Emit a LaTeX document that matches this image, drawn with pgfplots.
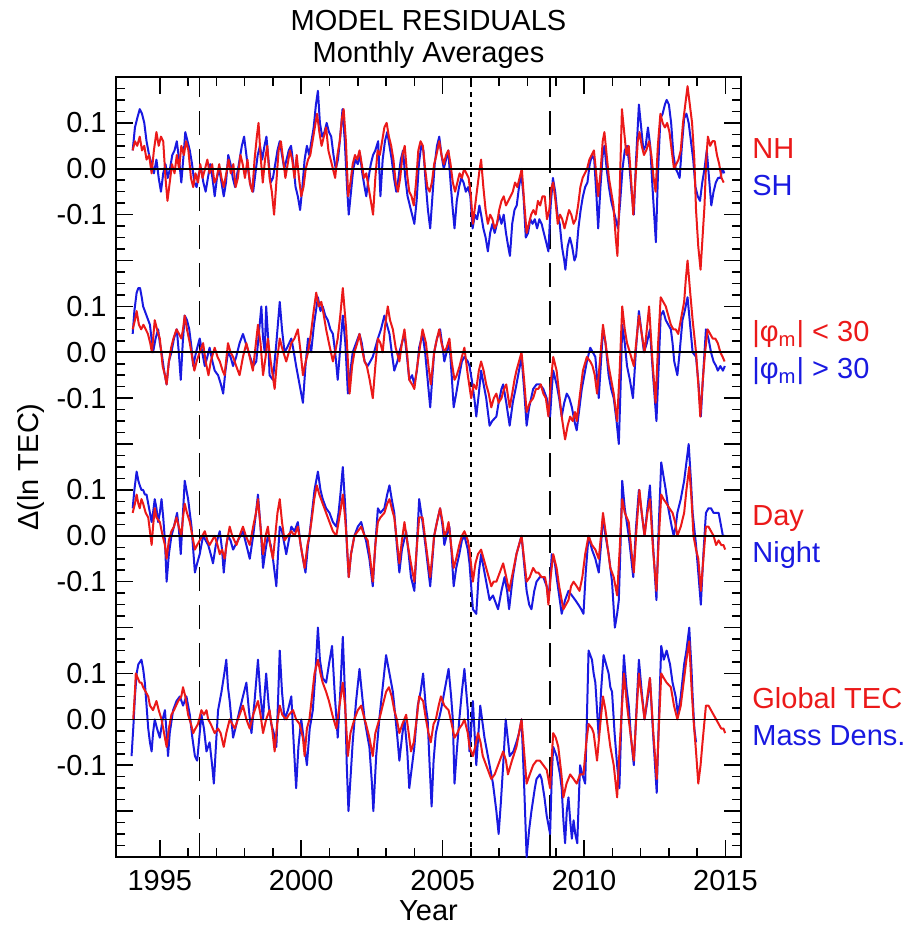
\documentclass[border=0pt]{standalone}
\usepackage{pgfplots}
\pgfplotsset{compat=1.18}
\usepackage{fontspec}
\setmainfont{Liberation Sans}
\definecolor{resred}{RGB}{235,25,25}
\definecolor{resblue}{RGB}{25,25,225}

\begin{document}
\fontsize{14.5}{17}\selectfont
\begin{tikzpicture}
\useasboundingbox (-58pt,-35.5pt) rectangle (396pt,428.5pt);
\begin{axis}[
  name=ax, at={(0,0)}, anchor=south west,
  scale only axis, width=312.5pt, height=390pt,
  xmin=1993.45, xmax=2015.55, ymin=-0.3, ymax=1.4,
  axis line style={line width=1pt},
  tick align=inside,
  major tick length=8.5pt, minor tick length=4.5pt,
  every tick/.style={black, line width=0.75pt},
  xtick={1995,2000,2005,2010,2015},
  xticklabels={1995,2000,2005,2010,2015},
  minor x tick num=4,
  ytick={-0.3,-0.2,-0.1,0,0.1,0.2,0.3,0.4,0.5,0.6,0.7,0.8,0.9,1.0,1.1,1.2,1.3,1.4},
  yticklabels={{},{},-0.1,0.0,0.1,{},-0.1,0.0,0.1,{},-0.1,0.0,0.1,{},-0.1,0.0,0.1,{}},
  minor y tick num=3,
  xticklabel style={anchor=base, inner sep=0pt, yshift=-16.5pt, font=\fontsize{14.5}{17}\selectfont},
  yticklabel style={anchor=east, inner sep=0pt, xshift=-4.5pt, font=\fontsize{14.5}{17}\selectfont},
  every axis plot/.append style={line width=1pt, line join=round},
]
% solar-minimum and reference epochs
\addplot[black, line width=0.8pt, dash pattern=on 12pt off 7pt] coordinates {(1996.4,-0.3) (1996.4,1.4)};
\addplot[black, line width=0.8pt, dash pattern=on 12pt off 7pt] coordinates {(2008.8,-0.3) (2008.8,1.4)};
\addplot[black, line width=0.8pt, dash pattern=on 2.5pt off 2.5pt] coordinates {(2006.0,-0.3) (2006.0,1.4)};

% ---- panel 1: NH / SH (offset +1.2)
\addplot[resblue] table[y expr=\thisrowno{1}+1.2] {
1994.04 0.04
1994.12 0.09
1994.20 0.11
1994.29 0.13
1994.37 0.12
1994.45 0.10
1994.53 0.06
1994.62 0.03
1994.71 0.01
1994.79 -0.01
1994.88 0.02
1994.96 -0.02
1995.04 -0.05
1995.12 -0.01
1995.20 0.01
1995.28 -0.02
1995.36 0.00
1995.44 0.03
1995.52 0.04
1995.60 0.06
1995.68 0.02
1995.76 -0.03
1995.84 0.03
1995.90 0.08
1995.98 0.06
1996.06 0.04
1996.14 0.01
1996.22 -0.03
1996.30 -0.04
1996.38 -0.01
1996.46 0.00
1996.54 -0.03
1996.62 -0.05
1996.70 -0.02
1996.78 0.01
1996.86 -0.02
1996.94 -0.06
1997.02 -0.02
1997.10 0.00
1997.18 -0.03
1997.26 -0.06
1997.34 -0.03
1997.42 0.03
1997.50 0.01
1997.58 -0.02
1997.66 -0.04
1997.74 -0.01
1997.82 0.02
1997.90 0.05
1997.98 0.07
1998.06 0.03
1998.14 -0.01
1998.22 -0.04
1998.30 -0.05
1998.38 -0.01
1998.46 0.03
1998.54 0.05
1998.62 0.02
1998.70 0.05
1998.77 0.07
1998.84 0.02
1998.92 -0.03
1999.00 -0.02
1999.08 0.01
1999.16 0.04
1999.24 0.06
1999.32 0.03
1999.40 0.00
1999.48 0.02
1999.56 0.04
1999.64 0.05
1999.72 0.01
1999.80 -0.04
1999.88 -0.06
1999.96 -0.09
2000.04 -0.04
2000.12 0.02
2000.20 0.05
2000.28 0.03
2000.36 0.06
2000.44 0.09
2000.52 0.14
2000.59 0.17
2000.66 0.10
2000.74 0.07
2000.82 0.08
2000.90 0.10
2000.98 0.08
2001.06 0.07
2001.14 0.03
2001.22 0.00
2001.30 0.02
2001.38 0.07
2001.46 0.13
2001.54 0.06
2001.62 -0.04
2001.68 -0.10
2001.76 -0.05
2001.84 0.00
2001.92 0.02
2002.00 0.01
2002.08 0.03
2002.16 -0.01
2002.24 -0.04
2002.30 -0.06
2002.38 -0.02
2002.46 0.01
2002.54 0.03
2002.62 0.04
2002.72 0.06
2002.80 -0.06
2002.88 0.02
2002.96 0.06
2003.04 0.08
2003.12 0.05
2003.20 0.02
2003.28 -0.02
2003.36 -0.05
2003.44 -0.02
2003.52 0.02
2003.60 0.04
2003.68 -0.02
2003.76 -0.06
2003.84 -0.08
2003.92 -0.10
2004.00 -0.12
2004.08 -0.07
2004.16 0.01
2004.24 0.05
2004.32 0.04
2004.40 -0.03
2004.48 -0.09
2004.56 -0.13
2004.64 -0.06
2004.72 0.01
2004.80 0.05
2004.88 0.07
2004.96 0.03
2005.04 0.00
2005.12 0.02
2005.20 0.04
2005.28 -0.03
2005.36 -0.09
2005.42 -0.13
2005.50 -0.07
2005.58 -0.04
2005.66 -0.02
2005.74 -0.03
2005.82 -0.05
2005.90 -0.04
2005.98 -0.06
2006.06 -0.13
2006.14 -0.10
2006.22 -0.11
2006.30 -0.08
2006.36 -0.10
2006.44 -0.13
2006.52 -0.15
2006.60 -0.18
2006.68 -0.14
2006.76 -0.12
2006.84 -0.14
2006.92 -0.12
2007.00 -0.10
2007.08 -0.12
2007.16 -0.10
2007.24 -0.14
2007.32 -0.17
2007.38 -0.19
2007.46 -0.12
2007.54 -0.09
2007.62 -0.08
2007.70 -0.04
2007.78 -0.01
2007.86 -0.06
2007.94 -0.15
2008.02 -0.14
2008.10 -0.11
2008.18 -0.12
2008.26 -0.11
2008.34 -0.13
2008.42 -0.11
2008.50 -0.12
2008.58 -0.14
2008.66 -0.16
2008.74 -0.18
2008.82 -0.08
2008.90 -0.02
2008.98 -0.05
2009.06 -0.10
2009.14 -0.12
2009.22 -0.17
2009.30 -0.20
2009.34 -0.22
2009.42 -0.17
2009.50 -0.15
2009.58 -0.17
2009.66 -0.20
2009.72 -0.19
2009.80 -0.13
2009.88 -0.09
2009.96 -0.06
2010.04 -0.04
2010.12 -0.03
2010.20 0.01
2010.28 0.03
2010.36 0.02
2010.44 -0.06
2010.50 -0.13
2010.58 -0.04
2010.66 0.03
2010.72 0.05
2010.80 0.00
2010.88 -0.04
2010.96 -0.07
2011.04 -0.09
2011.12 -0.11
2011.20 -0.13
2011.28 -0.07
2011.36 0.00
2011.44 0.04
2011.52 0.05
2011.60 0.01
2011.68 -0.05
2011.76 -0.10
2011.84 0.02
2011.94 0.14
2012.02 0.09
2012.10 0.04
2012.18 0.05
2012.26 0.09
2012.34 0.05
2012.42 -0.04
2012.50 -0.12
2012.54 -0.16
2012.62 0.00
2012.70 0.11
2012.78 0.12
2012.86 0.14
2012.92 0.15
2013.00 0.14
2013.08 0.10
2013.16 0.03
2013.24 0.00
2013.32 -0.01
2013.38 -0.02
2013.46 0.05
2013.54 0.11
2013.62 0.12
2013.70 0.10
2013.78 0.06
2013.86 0.02
2013.94 -0.04
2014.02 -0.06
2014.10 -0.07
2014.18 -0.03
2014.26 0.00
2014.34 0.04
2014.42 -0.02
2014.50 -0.08
2014.58 -0.05
2014.66 -0.03
2014.74 -0.02
2014.82 -0.02
2014.90 0.00
2014.96 -0.01
};
\addplot[resred] table[y expr=\thisrowno{1}+1.2] {
1994.04 0.04
1994.12 0.06
1994.20 0.05
1994.29 0.07
1994.37 0.04
1994.45 0.05
1994.53 0.02
1994.62 0.03
1994.71 -0.01
1994.79 0.04
1994.88 0.08
1994.96 0.05
1995.04 0.07
1995.12 0.06
1995.20 -0.02
1995.27 -0.07
1995.35 -0.03
1995.43 0.01
1995.52 -0.01
1995.60 0.03
1995.68 0.00
1995.76 0.05
1995.85 0.03
1995.93 0.06
1996.01 0.04
1996.10 -0.02
1996.18 -0.04
1996.26 -0.01
1996.35 -0.03
1996.43 0.01
1996.51 -0.02
1996.60 0.00
1996.68 0.02
1996.76 -0.01
1996.85 0.01
1996.93 -0.03
1997.01 -0.02
1997.10 0.01
1997.18 -0.02
1997.26 -0.04
1997.35 -0.01
1997.43 0.02
1997.51 -0.01
1997.60 0.01
1997.68 -0.04
1997.76 -0.02
1997.85 0.03
1997.93 0.01
1998.01 -0.02
1998.10 0.02
1998.18 -0.03
1998.27 -0.05
1998.35 0.02
1998.43 0.07
1998.49 0.10
1998.56 0.03
1998.64 -0.03
1998.72 0.02
1998.80 0.05
1998.88 -0.02
1998.96 -0.05
1999.04 -0.10
1999.12 -0.03
1999.20 0.04
1999.28 0.06
1999.36 0.02
1999.44 -0.02
1999.52 0.01
1999.60 0.04
1999.68 0.02
1999.76 -0.02
1999.84 0.03
1999.92 -0.02
2000.00 -0.06
2000.08 -0.04
2000.16 0.00
2000.24 0.02
2000.32 0.03
2000.40 0.06
2000.48 0.09
2000.56 0.12
2000.64 0.08
2000.72 0.05
2000.80 0.07
2000.88 0.09
2000.96 0.04
2001.04 0.02
2001.12 0.00
2001.20 -0.02
2001.28 0.03
2001.36 0.06
2001.44 0.11
2001.50 0.13
2001.58 0.06
2001.66 -0.06
2001.74 -0.03
2001.82 0.01
2001.90 0.03
2001.98 0.02
2002.06 0.04
2002.14 0.01
2002.22 -0.02
2002.30 -0.01
2002.38 -0.04
2002.46 -0.07
2002.54 -0.10
2002.62 -0.02
2002.70 0.04
2002.78 0.03
2002.86 0.06
2002.94 0.09
2003.02 0.10
2003.10 0.07
2003.18 0.05
2003.26 0.02
2003.34 -0.03
2003.42 -0.05
2003.50 -0.02
2003.58 0.03
2003.66 0.05
2003.74 -0.01
2003.82 -0.05
2003.90 -0.06
2003.98 -0.08
2004.06 -0.03
2004.14 0.04
2004.22 0.06
2004.30 0.05
2004.38 0.00
2004.46 -0.04
2004.54 -0.05
2004.62 -0.03
2004.70 0.01
2004.78 0.03
2004.88 0.06
2004.96 0.03
2005.04 0.01
2005.12 0.03
2005.20 0.04
2005.28 0.01
2005.36 -0.03
2005.44 -0.05
2005.52 -0.03
2005.60 -0.01
2005.68 -0.02
2005.76 0.00
2005.84 -0.01
2005.92 -0.02
2006.00 -0.06
2006.07 -0.12
2006.15 -0.08
2006.23 -0.04
2006.31 0.00
2006.36 0.02
2006.44 -0.04
2006.52 -0.09
2006.60 -0.12
2006.68 -0.10
2006.76 -0.11
2006.84 -0.13
2006.92 -0.12
2007.00 -0.09
2007.08 -0.07
2007.16 -0.06
2007.24 -0.08
2007.32 -0.07
2007.40 -0.06
2007.48 -0.05
2007.56 -0.03
2007.64 -0.04
2007.72 -0.02
2007.80 0.00
2007.88 -0.07
2007.97 -0.14
2008.05 -0.12
2008.13 -0.10
2008.21 -0.09
2008.29 -0.10
2008.37 -0.07
2008.45 -0.08
2008.53 -0.06
2008.61 -0.06
2008.69 -0.11
2008.77 -0.09
2008.85 -0.04
2008.91 -0.03
2008.99 -0.07
2009.07 -0.12
2009.15 -0.10
2009.23 -0.11
2009.31 -0.13
2009.39 -0.11
2009.47 -0.09
2009.55 -0.10
2009.63 -0.12
2009.71 -0.11
2009.79 -0.08
2009.87 -0.04
2009.95 -0.02
2010.03 -0.01
2010.11 0.00
2010.19 0.02
2010.27 0.03
2010.35 0.04
2010.43 -0.01
2010.50 -0.06
2010.58 -0.01
2010.66 0.06
2010.72 0.08
2010.80 0.03
2010.88 -0.02
2010.96 -0.05
2011.04 -0.08
2011.12 -0.15
2011.18 -0.19
2011.26 -0.05
2011.34 0.13
2011.42 0.08
2011.50 0.03
2011.58 0.05
2011.66 -0.02
2011.74 -0.10
2011.82 -0.02
2011.90 0.06
2011.96 0.08
2012.04 0.05
2012.12 0.03
2012.20 0.04
2012.30 0.06
2012.38 0.03
2012.46 -0.02
2012.53 -0.05
2012.61 0.05
2012.70 0.12
2012.78 0.10
2012.86 0.09
2012.94 0.10
2013.02 0.08
2013.10 0.04
2013.18 0.00
2013.26 0.01
2013.34 0.02
2013.42 0.04
2013.50 0.10
2013.56 0.13
2013.66 0.18
2013.74 0.14
2013.82 0.10
2013.90 0.02
2013.96 -0.09
2014.04 -0.17
2014.12 -0.22
2014.20 -0.14
2014.26 -0.08
2014.32 0.02
2014.38 0.07
2014.46 0.05
2014.54 0.06
2014.62 0.06
2014.70 0.03
2014.78 0.01
2014.86 -0.02
2014.94 -0.03
};

% ---- panel 2: |phi_m| < 30 / > 30 (offset +0.8)
\addplot[resblue] table[y expr=\thisrowno{1}+0.8] {
1994.04 0.04
1994.10 0.09
1994.18 0.13
1994.24 0.14
1994.30 0.14
1994.36 0.12
1994.41 0.10
1994.47 0.09
1994.53 0.08
1994.59 0.07
1994.65 0.06
1994.76 0.00
1994.85 0.03
1994.94 0.05
1995.00 0.02
1995.06 0.00
1995.15 -0.04
1995.24 -0.07
1995.32 -0.02
1995.41 0.00
1995.50 0.03
1995.60 0.05
1995.67 0.00
1995.74 -0.06
1995.81 0.02
1995.88 0.08
1995.96 0.07
1996.04 0.05
1996.12 0.01
1996.18 -0.03
1996.28 0.00
1996.41 0.03
1996.50 0.00
1996.59 -0.03
1996.68 -0.01
1996.76 0.01
1996.86 -0.02
1996.94 -0.04
1997.06 -0.05
1997.16 -0.07
1997.24 -0.09
1997.32 -0.04
1997.41 0.00
1997.50 -0.01
1997.59 -0.03
1997.70 -0.01
1997.82 0.02
1997.94 0.04
1998.04 0.02
1998.14 0.00
1998.30 -0.03
1998.41 -0.02
1998.50 0.04
1998.59 0.10
1998.65 0.03
1998.71 0.00
1998.76 0.10
1998.84 0.02
1998.88 -0.05
1999.00 -0.06
1999.12 0.02
1999.24 0.11
1999.32 0.05
1999.41 0.00
1999.50 0.01
1999.65 0.03
1999.74 0.00
1999.82 -0.03
1999.94 -0.07
2000.06 -0.11
2000.15 -0.03
2000.24 0.03
2000.35 0.00
2000.45 0.06
2000.59 0.12
2000.68 0.09
2000.76 0.10
2000.85 0.08
2000.94 0.07
2001.03 0.05
2001.12 0.04
2001.20 0.00
2001.29 -0.06
2001.38 0.01
2001.47 0.08
2001.56 0.02
2001.65 -0.09
2001.74 -0.04
2001.82 0.00
2001.94 0.02
2002.06 0.04
2002.14 0.02
2002.24 -0.02
2002.35 -0.03
2002.53 -0.01
2002.62 0.01
2002.71 0.03
2002.82 0.05
2002.94 0.08
2003.03 0.06
2003.12 0.04
2003.20 0.00
2003.29 -0.04
2003.40 -0.02
2003.47 0.00
2003.56 0.02
2003.65 0.04
2003.74 -0.01
2003.82 -0.06
2003.92 -0.05
2004.00 -0.07
2004.09 -0.04
2004.17 0.01
2004.29 0.04
2004.38 0.00
2004.47 -0.06
2004.56 -0.12
2004.64 -0.05
2004.70 0.00
2004.80 0.03
2004.91 0.05
2005.00 0.01
2005.06 -0.02
2005.14 0.00
2005.24 0.02
2005.32 -0.05
2005.39 -0.12
2005.48 -0.09
2005.59 -0.05
2005.68 -0.02
2005.77 -0.01
2005.89 -0.02
2005.95 -0.03
2006.03 -0.06
2006.12 -0.10
2006.19 -0.14
2006.28 -0.09
2006.36 -0.04
2006.45 -0.07
2006.54 -0.10
2006.66 -0.16
2006.75 -0.15
2006.90 -0.14
2006.98 -0.11
2007.08 -0.08
2007.14 -0.07
2007.25 -0.11
2007.37 -0.16
2007.48 -0.11
2007.61 -0.07
2007.70 -0.04
2007.79 -0.01
2007.88 -0.08
2007.97 -0.16
2008.06 -0.12
2008.20 -0.08
2008.32 -0.07
2008.44 -0.07
2008.56 -0.08
2008.68 -0.10
2008.80 -0.14
2008.86 -0.08
2008.91 -0.04
2009.03 -0.07
2009.12 -0.10
2009.21 -0.14
2009.30 -0.11
2009.39 -0.09
2009.48 -0.10
2009.57 -0.12
2009.66 -0.15
2009.74 -0.17
2009.84 -0.12
2009.92 -0.08
2010.04 -0.04
2010.10 -0.02
2010.22 0.01
2010.31 0.00
2010.40 -0.01
2010.52 -0.10
2010.60 -0.02
2010.67 0.05
2010.76 0.02
2010.87 -0.05
2010.96 -0.08
2011.05 -0.10
2011.15 -0.15
2011.23 -0.20
2011.29 -0.08
2011.35 0.06
2011.44 0.02
2011.52 -0.03
2011.62 -0.06
2011.73 -0.10
2011.84 0.01
2011.94 0.09
2012.04 0.04
2012.12 0.00
2012.22 0.02
2012.33 0.05
2012.44 -0.05
2012.56 -0.15
2012.64 -0.03
2012.71 0.08
2012.80 0.09
2012.89 0.07
2012.98 0.06
2013.07 0.05
2013.13 0.02
2013.19 -0.02
2013.30 -0.05
2013.38 0.00
2013.48 0.07
2013.56 0.09
2013.66 0.12
2013.75 0.06
2013.84 0.00
2013.96 -0.01
2014.05 -0.07
2014.13 -0.14
2014.22 -0.04
2014.31 0.05
2014.40 0.03
2014.49 0.00
2014.58 -0.02
2014.67 -0.03
2014.73 -0.04
2014.82 -0.03
2014.91 -0.04
2014.98 -0.03
};
\addplot[resred] table[y expr=\thisrowno{1}+0.8] {
1994.04 0.05
1994.12 0.07
1994.18 0.09
1994.26 0.06
1994.34 0.05
1994.42 0.06
1994.50 0.05
1994.58 0.04
1994.66 0.02
1994.72 0.00
1994.82 0.07
1994.90 0.05
1995.00 0.03
1995.10 -0.03
1995.18 -0.05
1995.24 -0.07
1995.32 -0.02
1995.40 0.01
1995.48 0.03
1995.59 0.05
1995.68 0.04
1995.76 0.03
1995.82 0.05
1995.88 0.08
1995.96 0.05
1996.06 0.02
1996.14 -0.01
1996.22 -0.04
1996.30 -0.02
1996.41 0.00
1996.53 0.02
1996.62 -0.02
1996.72 -0.05
1996.80 -0.02
1996.94 0.01
1997.04 -0.01
1997.12 -0.02
1997.22 -0.04
1997.29 -0.05
1997.41 0.02
1997.50 0.00
1997.59 -0.01
1997.70 -0.03
1997.82 -0.05
1997.94 -0.01
1998.06 0.02
1998.14 0.00
1998.29 -0.04
1998.38 0.01
1998.47 0.06
1998.56 0.02
1998.65 -0.05
1998.74 -0.01
1998.82 0.03
1998.92 -0.02
1999.06 -0.08
1999.14 -0.02
1999.24 0.03
1999.32 0.01
1999.47 -0.02
1999.56 0.00
1999.65 0.02
1999.76 0.03
1999.88 0.05
1999.98 0.00
2000.06 -0.05
2000.16 -0.02
2000.24 0.00
2000.34 0.04
2000.44 0.09
2000.53 0.13
2000.62 0.10
2000.71 0.11
2000.80 0.08
2000.88 0.05
2000.98 0.02
2001.12 -0.02
2001.20 0.00
2001.29 0.03
2001.38 0.08
2001.47 0.14
2001.55 0.08
2001.59 0.05
2001.71 -0.09
2001.80 -0.03
2001.88 0.00
2001.98 0.02
2002.06 0.04
2002.14 0.01
2002.24 -0.02
2002.32 -0.03
2002.42 -0.06
2002.53 -0.10
2002.62 -0.03
2002.71 0.03
2002.80 0.02
2002.88 0.00
2002.97 0.06
2003.06 0.10
2003.14 0.07
2003.24 0.05
2003.34 0.01
2003.47 -0.02
2003.56 0.02
2003.65 0.05
2003.74 0.00
2003.82 -0.06
2003.92 -0.07
2004.00 -0.08
2004.08 -0.04
2004.17 0.00
2004.29 0.05
2004.41 0.02
2004.50 -0.03
2004.58 -0.07
2004.70 0.00
2004.80 0.03
2004.88 0.05
2004.96 0.02
2005.06 0.00
2005.14 0.01
2005.24 0.03
2005.32 -0.02
2005.42 -0.06
2005.50 -0.05
2005.60 -0.03
2005.68 -0.01
2005.77 0.01
2005.89 -0.05
2006.01 -0.10
2006.10 -0.07
2006.19 -0.08
2006.28 -0.04
2006.36 -0.02
2006.45 -0.04
2006.54 -0.07
2006.63 -0.09
2006.72 -0.12
2006.81 -0.10
2006.90 -0.09
2006.98 -0.11
2007.08 -0.10
2007.17 -0.08
2007.25 -0.07
2007.37 -0.12
2007.46 -0.09
2007.54 -0.06
2007.61 -0.04
2007.70 -0.02
2007.79 0.00
2007.88 -0.06
2007.97 -0.13
2008.08 -0.11
2008.20 -0.10
2008.30 -0.08
2008.38 -0.08
2008.47 -0.07
2008.56 -0.09
2008.65 -0.10
2008.74 -0.14
2008.82 -0.07
2008.91 -0.01
2009.03 -0.04
2009.12 -0.09
2009.21 -0.14
2009.33 -0.19
2009.42 -0.16
2009.51 -0.14
2009.60 -0.15
2009.68 -0.13
2009.74 -0.15
2009.86 -0.09
2009.96 -0.04
2010.10 -0.01
2010.22 -0.02
2010.30 -0.03
2010.38 -0.05
2010.46 -0.09
2010.56 -0.02
2010.67 0.06
2010.76 0.02
2010.87 -0.03
2010.96 -0.06
2011.05 -0.09
2011.17 -0.15
2011.26 -0.04
2011.35 0.10
2011.44 0.05
2011.52 0.02
2011.62 0.00
2011.76 -0.03
2011.86 0.03
2011.94 0.08
2012.04 0.04
2012.14 0.00
2012.22 0.05
2012.30 0.10
2012.42 -0.02
2012.53 -0.11
2012.62 0.02
2012.71 0.12
2012.80 0.11
2012.89 0.10
2012.98 0.08
2013.07 0.06
2013.16 0.05
2013.24 0.05
2013.33 0.04
2013.42 0.07
2013.54 0.11
2013.60 0.16
2013.66 0.20
2013.74 0.14
2013.84 0.07
2013.96 0.00
2014.04 -0.07
2014.11 -0.14
2014.20 -0.06
2014.28 0.00
2014.37 0.05
2014.46 0.04
2014.55 0.03
2014.64 0.03
2014.73 0.02
2014.82 0.00
2014.90 -0.01
2014.97 -0.02
};

% ---- panel 3: Day / Night (offset +0.4)
\addplot[resblue] table[y expr=\thisrowno{1}+0.4] {
1994.04 0.06
1994.10 0.10
1994.18 0.14
1994.24 0.12
1994.29 0.11
1994.35 0.10
1994.41 0.10
1994.47 0.09
1994.53 0.09
1994.59 0.07
1994.65 0.05
1994.71 0.03
1994.76 0.05
1994.82 0.08
1994.88 0.06
1994.94 0.03
1995.00 0.05
1995.06 0.08
1995.12 0.04
1995.18 -0.01
1995.24 -0.10
1995.32 -0.04
1995.41 0.00
1995.50 0.02
1995.61 0.05
1995.68 0.01
1995.74 -0.04
1995.81 0.04
1995.88 0.12
1995.94 0.10
1996.00 0.08
1996.06 0.05
1996.12 0.02
1996.18 -0.03
1996.24 -0.08
1996.32 -0.06
1996.41 -0.04
1996.53 0.00
1996.62 -0.01
1996.71 -0.02
1996.80 -0.04
1996.88 -0.06
1996.98 -0.02
1997.12 0.01
1997.20 -0.03
1997.26 -0.08
1997.35 -0.02
1997.41 0.00
1997.50 -0.01
1997.59 -0.03
1997.76 -0.01
1997.94 0.01
1998.06 -0.02
1998.18 -0.05
1998.30 0.00
1998.40 0.05
1998.47 0.09
1998.56 0.02
1998.65 -0.07
1998.74 -0.03
1998.82 0.00
1998.92 -0.02
1999.00 -0.05
1999.12 -0.11
1999.18 -0.04
1999.24 0.02
1999.32 0.01
1999.47 -0.04
1999.56 -0.01
1999.65 0.02
1999.76 0.01
1999.88 0.03
1999.98 -0.02
2000.06 -0.05
2000.15 -0.08
2000.24 -0.02
2000.29 0.00
2000.38 0.05
2000.47 0.10
2000.59 0.14
2000.68 0.10
2000.76 0.08
2000.88 0.06
2001.00 0.05
2001.12 0.03
2001.24 0.02
2001.32 0.05
2001.40 0.10
2001.47 0.15
2001.55 0.07
2001.62 -0.03
2001.68 -0.09
2001.76 -0.04
2001.88 0.00
2002.00 0.02
2002.12 0.03
2002.24 0.00
2002.29 -0.01
2002.41 -0.05
2002.53 -0.11
2002.62 -0.02
2002.71 0.06
2002.80 0.05
2002.94 0.06
2003.04 0.09
2003.12 0.11
2003.20 0.08
2003.29 0.05
2003.38 -0.02
2003.47 -0.08
2003.56 -0.03
2003.71 0.01
2003.80 -0.04
2003.88 -0.09
2004.00 -0.12
2004.08 -0.03
2004.17 0.08
2004.29 0.03
2004.41 -0.03
2004.56 -0.11
2004.64 -0.05
2004.70 0.00
2004.80 0.03
2004.91 0.06
2005.00 0.02
2005.06 -0.02
2005.14 0.00
2005.24 0.02
2005.32 -0.04
2005.39 -0.11
2005.48 -0.07
2005.59 -0.04
2005.68 -0.01
2005.77 0.00
2005.89 -0.03
2005.95 -0.06
2006.07 -0.16
2006.19 -0.17
2006.28 -0.08
2006.36 -0.04
2006.45 -0.07
2006.54 -0.10
2006.66 -0.14
2006.78 -0.13
2006.96 -0.16
2007.08 -0.12
2007.19 -0.09
2007.28 -0.12
2007.35 -0.16
2007.48 -0.09
2007.61 -0.04
2007.70 -0.02
2007.79 0.00
2007.88 -0.06
2007.97 -0.12
2008.06 -0.15
2008.14 -0.16
2008.24 -0.12
2008.32 -0.10
2008.44 -0.09
2008.56 -0.09
2008.68 -0.11
2008.74 -0.14
2008.82 -0.08
2008.86 -0.04
2008.97 -0.06
2009.03 -0.09
2009.12 -0.13
2009.21 -0.17
2009.33 -0.14
2009.45 -0.12
2009.57 -0.13
2009.69 -0.14
2009.80 -0.15
2009.90 -0.16
2009.98 -0.17
2010.06 -0.08
2010.16 0.00
2010.28 -0.03
2010.40 -0.05
2010.52 -0.08
2010.60 -0.02
2010.67 0.04
2010.76 0.00
2010.87 -0.04
2010.99 -0.10
2011.09 -0.20
2011.17 -0.17
2011.23 -0.14
2011.29 -0.02
2011.35 0.12
2011.44 0.06
2011.58 0.00
2011.67 -0.05
2011.74 -0.09
2011.84 0.02
2011.94 0.10
2012.04 0.05
2012.14 0.00
2012.24 0.06
2012.33 0.11
2012.44 -0.02
2012.56 -0.14
2012.64 0.02
2012.73 0.16
2012.81 0.13
2012.89 0.10
2012.98 0.06
2013.10 0.02
2013.17 0.00
2013.24 0.02
2013.30 0.05
2013.42 0.08
2013.54 0.12
2013.62 0.16
2013.70 0.20
2013.78 0.12
2013.84 0.05
2013.96 -0.02
2014.04 -0.08
2014.13 -0.15
2014.22 -0.04
2014.31 0.05
2014.40 0.06
2014.49 0.06
2014.58 0.05
2014.67 0.05
2014.76 0.05
2014.85 0.02
2014.91 0.00
2014.99 0.00
};
\addplot[resred] table[y expr=\thisrowno{1}+0.4] {
1994.04 0.05
1994.12 0.07
1994.18 0.09
1994.24 0.07
1994.29 0.06
1994.35 0.08
1994.41 0.07
1994.50 0.05
1994.59 0.04
1994.65 0.01
1994.71 -0.02
1994.76 0.02
1994.82 0.06
1994.88 0.04
1995.00 0.03
1995.10 0.00
1995.18 -0.02
1995.24 -0.05
1995.32 -0.01
1995.41 0.01
1995.50 0.02
1995.59 0.04
1995.67 0.02
1995.76 0.00
1995.82 0.04
1995.88 0.07
1995.96 0.05
1996.06 0.03
1996.15 0.00
1996.24 -0.03
1996.32 -0.02
1996.41 -0.01
1996.50 0.00
1996.59 0.01
1996.68 -0.01
1996.76 -0.02
1996.85 -0.01
1996.94 0.00
1997.04 -0.02
1997.12 -0.04
1997.20 -0.03
1997.29 -0.05
1997.38 -0.01
1997.47 0.02
1997.56 0.00
1997.71 -0.02
1997.82 0.00
1997.94 0.02
1998.04 0.00
1998.18 -0.02
1998.30 0.02
1998.40 0.05
1998.47 0.08
1998.56 0.02
1998.65 -0.04
1998.74 0.00
1998.82 0.02
1998.90 -0.02
1999.00 -0.05
1999.08 0.00
1999.16 0.05
1999.24 0.08
1999.32 0.03
1999.41 -0.01
1999.52 0.00
1999.65 0.01
1999.76 0.00
1999.88 0.02
1999.98 -0.02
2000.12 -0.07
2000.22 -0.02
2000.29 0.00
2000.38 0.04
2000.46 0.08
2000.55 0.11
2000.64 0.09
2000.76 0.07
2000.88 0.05
2001.00 0.03
2001.12 0.01
2001.24 0.00
2001.32 0.03
2001.40 0.06
2001.47 0.09
2001.55 0.04
2001.62 -0.02
2001.68 -0.09
2001.76 -0.04
2001.88 0.00
2002.00 0.01
2002.12 0.02
2002.24 0.00
2002.35 -0.01
2002.44 -0.05
2002.53 -0.10
2002.62 -0.02
2002.71 0.03
2002.80 0.04
2002.94 0.05
2003.04 0.07
2003.12 0.08
2003.20 0.06
2003.29 0.04
2003.38 -0.01
2003.47 -0.06
2003.56 -0.01
2003.65 0.03
2003.74 -0.01
2003.88 -0.06
2004.00 -0.10
2004.08 -0.03
2004.17 0.04
2004.29 0.04
2004.41 -0.02
2004.56 -0.09
2004.64 -0.04
2004.70 0.00
2004.80 0.03
2004.91 0.06
2005.00 0.03
2005.06 0.00
2005.14 0.01
2005.21 0.03
2005.30 -0.02
2005.39 -0.07
2005.48 -0.05
2005.59 -0.02
2005.68 0.00
2005.77 0.01
2005.89 -0.01
2005.95 -0.03
2006.07 -0.10
2006.16 -0.06
2006.25 -0.04
2006.36 -0.03
2006.45 -0.05
2006.54 -0.07
2006.63 -0.09
2006.72 -0.11
2006.80 -0.10
2006.90 -0.10
2007.02 -0.08
2007.14 -0.06
2007.25 -0.09
2007.35 -0.12
2007.48 -0.08
2007.61 -0.04
2007.70 -0.02
2007.79 0.00
2007.88 -0.05
2007.97 -0.10
2008.08 -0.09
2008.20 -0.07
2008.30 -0.08
2008.38 -0.08
2008.50 -0.09
2008.62 -0.09
2008.68 -0.11
2008.74 -0.15
2008.82 -0.09
2008.91 -0.04
2009.03 -0.07
2009.12 -0.11
2009.27 -0.16
2009.36 -0.15
2009.45 -0.14
2009.54 -0.11
2009.63 -0.10
2009.74 -0.11
2009.84 -0.12
2009.94 -0.09
2010.04 -0.04
2010.16 0.00
2010.28 -0.02
2010.40 -0.03
2010.52 -0.05
2010.60 0.00
2010.67 0.05
2010.76 0.01
2010.93 -0.07
2011.05 -0.09
2011.17 -0.13
2011.26 -0.03
2011.35 0.08
2011.44 0.05
2011.58 0.03
2011.67 -0.03
2011.76 -0.08
2011.86 0.02
2011.96 0.10
2012.04 0.05
2012.14 0.00
2012.24 0.05
2012.33 0.08
2012.44 -0.03
2012.56 -0.12
2012.64 -0.01
2012.73 0.09
2012.81 0.08
2012.92 0.07
2013.02 0.06
2013.13 0.05
2013.22 0.03
2013.30 0.00
2013.42 0.02
2013.54 0.05
2013.62 0.10
2013.72 0.15
2013.80 0.08
2013.87 0.00
2013.96 -0.03
2014.04 -0.05
2014.13 -0.12
2014.22 -0.05
2014.31 0.02
2014.40 0.02
2014.49 0.01
2014.58 0.00
2014.67 -0.02
2014.76 -0.01
2014.85 -0.02
2014.93 -0.02
2014.99 -0.03
};

% ---- panel 4: Global TEC / Mass density (no offset)
\addplot[resblue] table {
1994.00 -0.08
1994.06 -0.02
1994.12 0.05
1994.18 0.10
1994.24 0.12
1994.35 0.13
1994.41 0.11
1994.47 0.08
1994.53 0.03
1994.59 -0.02
1994.65 -0.05
1994.71 -0.07
1994.76 -0.03
1994.82 0.00
1994.90 -0.02
1995.00 -0.04
1995.10 0.00
1995.18 0.02
1995.24 -0.03
1995.29 -0.08
1995.35 -0.03
1995.47 0.02
1995.59 0.04
1995.71 0.05
1995.82 0.03
1995.94 0.05
1996.06 0.01
1996.15 -0.04
1996.24 -0.08
1996.32 -0.09
1996.41 -0.03
1996.47 0.01
1996.56 -0.02
1996.65 -0.07
1996.76 -0.05
1996.85 -0.10
1996.91 -0.14
1997.00 -0.04
1997.06 0.02
1997.18 0.06
1997.28 0.10
1997.35 0.13
1997.41 0.07
1997.47 0.04
1997.59 -0.04
1997.71 -0.01
1997.82 0.02
1997.94 0.05
1998.06 0.08
1998.15 0.02
1998.24 -0.03
1998.35 0.04
1998.47 0.13
1998.56 0.05
1998.65 0.00
1998.70 0.05
1998.76 0.10
1998.85 0.03
1998.94 -0.01
1999.03 -0.03
1999.12 -0.06
1999.18 0.04
1999.24 0.15
1999.32 0.06
1999.41 0.00
1999.53 0.02
1999.65 0.05
1999.74 -0.06
1999.82 -0.15
1999.90 -0.06
2000.00 0.00
2000.12 -0.06
2000.20 -0.10
2000.30 -0.02
2000.41 0.02
2000.50 0.10
2000.59 0.20
2000.66 0.13
2000.76 0.09
2000.88 0.08
2000.98 0.12
2001.09 0.16
2001.18 0.06
2001.29 -0.04
2001.38 0.06
2001.47 0.18
2001.55 0.05
2001.61 -0.10
2001.67 -0.20
2001.75 -0.12
2001.82 -0.05
2001.94 0.04
2002.06 0.11
2002.14 0.06
2002.24 0.00
2002.35 -0.04
2002.41 -0.06
2002.50 -0.14
2002.55 -0.20
2002.65 -0.08
2002.76 0.00
2002.88 0.07
2003.00 0.14
2003.12 0.10
2003.24 0.06
2003.29 0.03
2003.40 -0.04
2003.47 -0.09
2003.58 -0.03
2003.65 0.00
2003.75 -0.07
2003.82 -0.15
2003.92 -0.10
2004.00 -0.06
2004.12 0.03
2004.22 0.06
2004.31 0.10
2004.40 0.03
2004.47 0.00
2004.54 -0.10
2004.61 -0.19
2004.68 -0.09
2004.76 -0.03
2004.94 0.02
2005.06 0.06
2005.21 0.11
2005.30 0.05
2005.36 0.00
2005.42 -0.14
2005.50 -0.07
2005.59 0.00
2005.68 0.06
2005.77 0.11
2005.89 0.02
2005.95 -0.07
2006.01 -0.02
2006.07 0.04
2006.19 -0.10
2006.33 0.03
2006.48 -0.04
2006.66 -0.10
2006.78 -0.14
2006.90 -0.20
2006.98 -0.25
2007.06 -0.18
2007.14 -0.10
2007.23 0.00
2007.30 -0.04
2007.37 -0.08
2007.50 -0.07
2007.61 -0.05
2007.70 -0.03
2007.79 0.00
2007.88 -0.14
2007.97 -0.30
2008.06 -0.24
2008.14 -0.20
2008.26 -0.15
2008.32 -0.13
2008.44 -0.12
2008.50 -0.13
2008.60 -0.17
2008.68 -0.21
2008.80 -0.25
2008.86 -0.12
2008.91 -0.06
2009.03 -0.08
2009.15 -0.12
2009.21 -0.15
2009.27 -0.22
2009.33 -0.27
2009.39 -0.20
2009.45 -0.17
2009.51 -0.22
2009.57 -0.26
2009.63 -0.22
2009.69 -0.25
2009.76 -0.27
2009.80 -0.20
2009.86 -0.10
2009.94 -0.12
2010.04 -0.14
2010.10 0.00
2010.16 0.15
2010.22 0.14
2010.28 0.13
2010.34 0.10
2010.40 0.08
2010.46 0.02
2010.52 -0.04
2010.60 0.06
2010.69 0.14
2010.78 0.12
2010.87 0.10
2010.93 0.07
2010.99 0.06
2011.08 -0.03
2011.17 -0.10
2011.25 -0.15
2011.33 0.02
2011.41 0.14
2011.50 0.07
2011.58 0.03
2011.66 -0.04
2011.76 -0.10
2011.86 0.03
2011.94 0.13
2012.04 0.06
2012.14 0.00
2012.24 0.04
2012.33 0.09
2012.45 -0.04
2012.57 -0.16
2012.65 0.01
2012.73 0.16
2012.82 0.13
2012.92 0.15
2013.04 0.12
2013.13 0.08
2013.24 0.05
2013.32 0.01
2013.42 0.05
2013.54 0.12
2013.62 0.15
2013.72 0.20
2013.80 0.11
2013.84 0.05
2013.90 -0.02
2013.96 -0.05
};
\addplot[resred] table {
1994.06 0.00
1994.12 0.06
1994.15 0.10
1994.22 0.09
1994.29 0.08
1994.35 0.08
1994.41 0.07
1994.50 0.06
1994.59 0.05
1994.65 0.03
1994.76 0.02
1994.88 0.04
1994.96 0.02
1995.06 0.00
1995.15 -0.03
1995.24 -0.06
1995.32 -0.02
1995.41 0.01
1995.50 0.02
1995.65 0.04
1995.76 0.05
1995.82 0.07
1995.90 0.05
1996.00 0.01
1996.10 -0.01
1996.18 -0.03
1996.26 -0.02
1996.35 -0.01
1996.47 0.02
1996.56 0.01
1996.65 0.02
1996.71 0.00
1996.80 -0.01
1996.94 -0.03
1997.06 -0.02
1997.15 -0.03
1997.26 -0.06
1997.35 -0.03
1997.47 0.00
1997.56 -0.01
1997.65 -0.02
1997.76 0.00
1997.94 0.03
1998.06 0.00
1998.18 -0.02
1998.30 0.01
1998.47 0.04
1998.56 0.01
1998.65 -0.03
1998.76 0.00
1998.88 0.02
1998.97 -0.02
1999.06 -0.07
1999.15 -0.01
1999.24 0.03
1999.33 0.01
1999.47 0.00
1999.56 0.01
1999.71 0.02
1999.82 0.00
1999.94 -0.01
2000.06 -0.04
2000.12 -0.08
2000.20 -0.02
2000.29 0.00
2000.38 0.05
2000.47 0.10
2000.59 0.13
2000.68 0.10
2000.76 0.08
2000.88 0.06
2000.98 0.04
2001.10 0.01
2001.24 -0.02
2001.33 0.02
2001.40 0.05
2001.47 0.08
2001.55 0.03
2001.65 -0.08
2001.74 -0.03
2001.88 0.00
2002.00 0.02
2002.12 0.03
2002.24 0.00
2002.29 -0.01
2002.41 -0.04
2002.53 -0.08
2002.62 -0.03
2002.76 0.00
2002.88 0.03
2003.00 0.06
2003.10 0.07
2003.20 0.05
2003.29 0.02
2003.38 0.00
2003.47 -0.03
2003.58 -0.01
2003.71 0.01
2003.80 -0.03
2003.88 -0.07
2003.98 -0.05
2004.08 0.00
2004.17 0.05
2004.31 0.04
2004.41 0.00
2004.50 -0.03
2004.58 -0.05
2004.68 -0.01
2004.76 0.00
2004.86 0.03
2004.94 0.05
2005.06 0.03
2005.21 0.02
2005.32 -0.01
2005.42 -0.04
2005.52 -0.03
2005.59 -0.02
2005.70 -0.01
2005.77 0.00
2005.89 -0.03
2005.95 -0.06
2006.07 -0.08
2006.15 -0.06
2006.25 -0.03
2006.34 -0.05
2006.42 -0.08
2006.54 -0.10
2006.66 -0.12
2006.72 -0.13
2006.84 -0.12
2006.96 -0.10
2007.14 -0.07
2007.24 -0.09
2007.31 -0.12
2007.45 -0.09
2007.61 -0.06
2007.70 -0.03
2007.79 0.00
2007.88 -0.07
2007.97 -0.14
2008.08 -0.12
2008.20 -0.10
2008.32 -0.09
2008.44 -0.09
2008.56 -0.10
2008.68 -0.11
2008.80 -0.15
2008.86 -0.08
2008.91 -0.03
2009.00 -0.04
2009.09 -0.06
2009.20 -0.12
2009.27 -0.17
2009.38 -0.14
2009.51 -0.12
2009.63 -0.13
2009.74 -0.14
2009.86 -0.12
2009.98 -0.12
2010.08 -0.05
2010.16 -0.01
2010.28 -0.02
2010.34 -0.03
2010.46 -0.09
2010.56 -0.02
2010.67 0.05
2010.76 0.02
2010.93 -0.06
2011.05 -0.10
2011.17 -0.17
2011.26 -0.06
2011.41 0.10
2011.52 0.03
2011.58 0.00
2011.68 -0.05
2011.76 -0.09
2011.86 0.02
2011.94 0.10
2012.04 0.05
2012.14 0.00
2012.24 0.05
2012.33 0.09
2012.45 -0.03
2012.57 -0.13
2012.65 -0.01
2012.73 0.10
2012.82 0.09
2012.92 0.08
2013.07 0.07
2013.18 0.03
2013.30 0.00
2013.42 0.03
2013.54 0.09
2013.62 0.13
2013.72 0.17
2013.80 0.07
2013.87 0.00
2013.96 -0.07
2014.04 -0.14
2014.12 -0.10
2014.19 -0.05
2014.31 0.03
2014.40 0.03
2014.49 0.02
2014.58 0.01
2014.67 0.00
2014.76 -0.01
2014.85 -0.02
2014.93 -0.02
2014.99 -0.03
};

% zero reference of each panel
\addplot[black, line width=0.8pt] coordinates {(1993.45,1.2) (2015.55,1.2)};
\addplot[black, line width=0.8pt] coordinates {(1993.45,0.8) (2015.55,0.8)};
\addplot[black, line width=0.8pt] coordinates {(1993.45,0.4) (2015.55,0.4)};
\addplot[black, line width=0.8pt] coordinates {(1993.45,0) (2015.55,0)};
\end{axis}

% titles and axis labels
\node[anchor=base] at ([yshift=23pt]ax.north) {MODEL RESIDUALS};
\node[anchor=base] at ([yshift=7pt]ax.north) {Monthly Averages};
\node[anchor=base] at ([yshift=-31.5pt]ax.south) {Year};
\node[rotate=90, anchor=center] at ([xshift=-42.5pt]ax.west) {Δ(ln TEC)};

% series names beside each panel
\begin{scope}[every node/.style={anchor=base west, inner sep=0pt}]
\node[text=resred]  at ([xshift=5.5pt, yshift=349.3pt]ax.south east) {NH};
\node[text=resblue] at ([xshift=5.5pt, yshift=330.8pt]ax.south east) {SH};
\node[text=resred]  at ([xshift=5.5pt, yshift=257.5pt]ax.south east) {|φ\textsubscript{m}| < 30};
\node[text=resblue] at ([xshift=5.5pt, yshift=239.0pt]ax.south east) {|φ\textsubscript{m}| > 30};
\node[text=resred]  at ([xshift=5.5pt, yshift=165.7pt]ax.south east) {Day};
\node[text=resblue] at ([xshift=5.5pt, yshift=147.3pt]ax.south east) {Night};
\node[text=resred]  at ([xshift=5.5pt, yshift=74.0pt]ax.south east) {Global TEC};
\node[text=resblue] at ([xshift=5.5pt, yshift=55.5pt]ax.south east) {Mass Dens.};
\end{scope}
\end{tikzpicture}
\end{document}
